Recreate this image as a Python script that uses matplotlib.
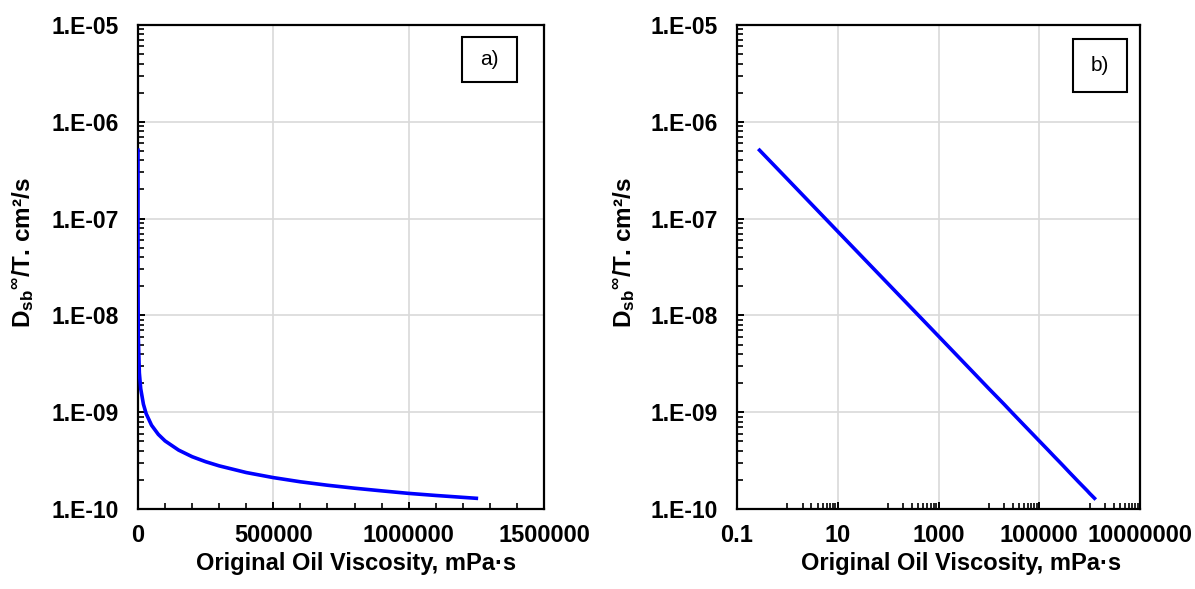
import matplotlib
matplotlib.use("Agg")
import matplotlib.pyplot as plt
from matplotlib.ticker import FixedLocator, FuncFormatter, NullFormatter
from matplotlib.patches import Rectangle
import numpy as np

# Data (viscosity mPa·s, Dsb/T cm2/s)
viscosity = [0.28, 1, 10, 100, 1000, 5000, 10000, 20000, 30000, 50000, 75000,
             100000, 150000, 200000, 250000, 300000, 400000, 500000, 600000,
             700000, 800000, 900000, 1000000, 1100000, 1250000]
diffusivity = [5.09e-7, 2.56e-7, 7.36e-8, 2.12e-8, 6.10e-9, 2.55e-9, 1.75e-9,
               1.21e-9, 9.68e-10, 7.34e-10, 5.90e-10, 5.05e-10, 4.06e-10,
               3.47e-10, 3.08e-10, 2.79e-10, 2.38e-10, 2.11e-10, 1.91e-10,
               1.76e-10, 1.64e-10, 1.54e-10, 1.45e-10, 1.38e-10, 1.29e-10]

y_ticks = [1e-10, 1e-9, 1e-8, 1e-7, 1e-6, 1e-5]
y_tick_labels = ["1.E-10", "1.E-09", "1.E-08", "1.E-07", "1.E-06", "1.E-05"]
xa_ticks = [0, 500000, 1000000, 1500000]
xa_tick_labels = ["0", "500000", "1000000", "1500000"]
xb_ticks = [0.1, 10, 1000, 100000, 10000000]
xb_tick_labels = ["0.1", "10", "1000", "100000", "10000000"]
panel_labels = ["a)", "b)"]
x_label = "Original Oil Viscosity, mPa·s"
y_label = r"D$_{sb}$$^{\infty}$/T. cm²/s"

plt.rcParams['font.family'] = ['Liberation Sans', 'DejaVu Sans']
plt.rcParams['mathtext.fontset'] = 'custom'
plt.rcParams['mathtext.rm'] = 'Liberation Sans:bold'
plt.rcParams['mathtext.it'] = 'Liberation Sans:bold'
plt.rcParams['mathtext.bf'] = 'Liberation Sans:bold'
plt.rcParams['mathtext.default'] = 'rm'

fig = plt.figure(figsize=(11.95, 5.89), dpi=100)
ax_a = fig.add_axes([138/1195, 80/589, 406/1195, 484/589])
ax_b = fig.add_axes([737/1195, 80/589, 403/1195, 484/589])

line_color = "#0000FF"
grid_color = "#D9D9D9"
fs_x = 17
fs_y = 16.5
fs_lab = 17

for ax in (ax_a, ax_b):
    ax.set_yscale('log')
    ax.set_ylim(1e-10, 1e-5)
    ax.yaxis.set_major_locator(FixedLocator(y_ticks))
    ax.yaxis.set_major_formatter(FuncFormatter(
        lambda v, p: y_tick_labels[int(np.argmin([abs(np.log10(t) - np.log10(v)) for t in y_ticks]))]))
    ax.yaxis.set_minor_locator(FixedLocator([k * 10.0**e for e in range(-10, -5) for k in range(2, 10)]))
    ax.yaxis.set_minor_formatter(NullFormatter())
    ax.grid(True, which='major', color=grid_color, linewidth=1.2, zorder=0)
    for s in ax.spines.values():
        s.set_linewidth(1.6)
        s.set_color('black')
    ax.tick_params(which='both', direction='in', top=False, right=False, color='black')
    ax.tick_params(which='major', length=5, width=1.4)
    ax.tick_params(axis='x', which='major', pad=11)
    ax.tick_params(axis='y', which='major', pad=14)
    ax.tick_params(which='minor', length=4, width=1.2)
    ax.set_xlabel(x_label, fontsize=fs_lab, fontweight='bold')
    ax.set_ylabel(y_label, fontsize=17.5, fontweight='bold')
    ax.set_axisbelow(True)

# Panel a: linear x
ax_a.plot(viscosity, diffusivity, color=line_color, linewidth=2.6, zorder=3)
ax_a.set_xlim(0, 1500000)
ax_a.xaxis.set_major_locator(FixedLocator(xa_ticks))
ax_a.set_xticklabels(xa_tick_labels)
ax_a.xaxis.set_minor_locator(FixedLocator(list(range(0, 1500001, 100000))))
ax_a.yaxis.set_label_coords(-0.251, 0.53)
ax_a.xaxis.set_label_coords(0.537, -0.088)

# Panel b: log x
ax_b.plot(viscosity, diffusivity, color=line_color, linewidth=2.6, zorder=3)
ax_b.set_xscale('log')
ax_b.set_xlim(0.1, 10000000)
ax_b.xaxis.set_major_locator(FixedLocator(xb_ticks))
ax_b.set_xticklabels(xb_tick_labels)
ax_b.xaxis.set_minor_locator(FixedLocator([k * 10.0**e for e in (0, 2, 4, 6) for k in range(1, 10)]))
ax_b.xaxis.set_minor_formatter(NullFormatter())
ax_b.yaxis.set_label_coords(-0.248, 0.53)
ax_b.xaxis.set_label_coords(0.555, -0.088)

for ax in (ax_a, ax_b):
    for lab in ax.get_xticklabels():
        lab.set_fontweight('bold')
        lab.set_fontsize(fs_x)
    for lab in ax.get_yticklabels():
        lab.set_fontweight('bold')
        lab.set_fontsize(fs_y)

# Panel label boxes (axes coordinates)
boxes = [(ax_a, 0.798, 0.882, 0.933, 0.975), (ax_b, 0.834, 0.862, 0.968, 0.971)]
for (ax, x0, y0, x1, y1), lbl in zip(boxes, panel_labels):
    ax.add_patch(Rectangle((x0, y0), x1 - x0, y1 - y0, transform=ax.transAxes,
                           facecolor='white', edgecolor='black', linewidth=1.5, zorder=5))
    ax.text((x0 + x1) / 2, (y0 + y1) / 2, lbl, transform=ax.transAxes, fontsize=15,
            ha='center', va='center', zorder=6)

fig.savefig("out.png", dpi=100, facecolor='white')
